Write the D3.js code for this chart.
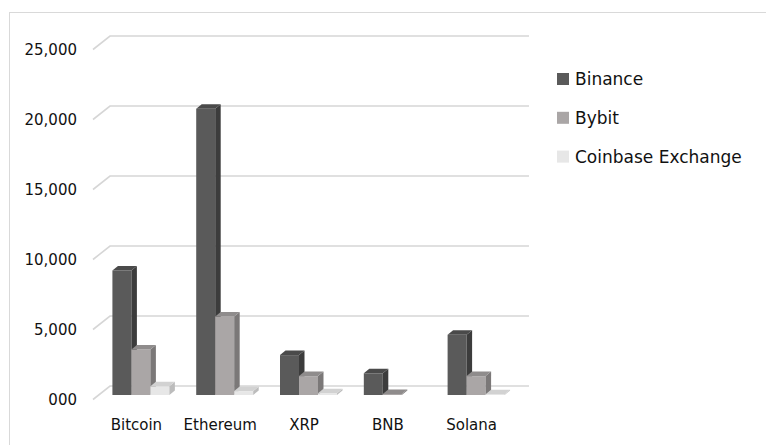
<!DOCTYPE html>
<html>
<head>
<meta charset="utf-8">
<title>Exchange volume 3D columns</title>
<script src="https://d3js.org/d3.v7.min.js"></script>
<style>
  body { margin: 0; background: #fff; }
  text { font-family: "DejaVu Sans", sans-serif; fill: #111; }
</style>
</head>
<body>
<script>
    var categories = ["Bitcoin", "Ethereum", "XRP", "BNB", "Solana"];
    var seriesNames = ["Binance", "Bybit", "Coinbase Exchange"];
    var binance = [8900, 20450, 2850, 1550, 4300];
    var bybit = [3250, 5600, 1350, 70, 1350];
    var coinbase = [620, 280, 120, 0, 60];
    var yTicks = [0, 5000, 10000, 15000, 20000, 25000];
    var yTickLabels = ["000", "5,000", "10,000", "15,000", "20,000", "25,000"];

    var seriesValues = [binance, bybit, coinbase];
    // front / side / top shades for each series
    var shades = [
        ["#5a5a5a", "#3c3c3c", "#4a4a4a"],
        ["#aaa6a6", "#7b7878", "#8f8c8c"],
        ["#e7e7e7", "#bcbcbc", "#d2d2d2"]
    ];

    var w = 766, h = 445;
    var floorDx = 17, floorDy = -13.5;   // front of floor -> back wall
    var barDx = 6, barDy = -4.5;         // front of floor -> front face of bars
    var depthDx = 5.5, depthDy = -4.5;   // bar thickness

    var svg = d3.select("body").append("svg")
        .attr("width", w).attr("height", h);

    // outer chart border
    svg.append("rect")
        .attr("x", 9.5).attr("y", 12.5)
        .attr("width", 820).attr("height", 470)
        .attr("fill", "none").attr("stroke", "#d9d9d9");

    var x0 = d3.scaleBand().domain(categories).range([93, 512])
        .paddingInner(0.32).paddingOuter(0.16);
    var x1 = d3.scaleBand().domain(seriesNames).range([0, x0.bandwidth()]);
    var y = d3.scaleLinear().domain([0, 25000]).range([399.5, 49.5]);

    // gridlines: diagonal on the side wall, then along the back wall
    var grid = svg.append("g");
    grid.selectAll("path").data(yTicks).enter().append("path")
        .attr("d", function(d) {
            var yy = y(d);
            return "M" + 93 + "," + yy + "L" + (93 + floorDx) + "," + (yy + floorDy) +
                   "L" + (512 + floorDx) + "," + (yy + floorDy);
        })
        .attr("fill", "none").attr("stroke", "#d6d6d6").attr("stroke-width", 1.6);

    // y labels
    svg.append("g").selectAll("text").data(yTicks).enter().append("text")
        .attr("x", 77).attr("y", function(d) { return y(d); })
        .attr("dy", "0.36em").attr("text-anchor", "end")
        .style("font-size", "15px")
        .text(function(d, i) { return yTickLabels[i]; });

    // category labels
    svg.append("g").selectAll("text").data(categories).enter().append("text")
        .attr("x", function(d) { return x0(d) - x0.step() * 0.16 + x0.step() / 2 + 1.5; })
        .attr("y", 424.5).attr("dy", "0.36em").attr("text-anchor", "middle")
        .style("font-size", "15px")
        .text(function(d) { return d; });

    // bars, left to right so each bar covers its neighbour's side face
    var bars = [];
    categories.forEach(function(c, ci) {
        seriesNames.forEach(function(s, si) {
            var v = seriesValues[si][ci];
            if (v > 0) bars.push({ cat: c, ser: s, si: si, value: v });
        });
    });

    function pts(a) { return a.map(function(p) { return p.join(","); }).join(" "); }

    var g = svg.append("g").selectAll("g").data(bars).enter().append("g");
    g.each(function(d) {
        var left = x0(d.cat) + x1(d.ser) + barDx;
        var right = left + x1.bandwidth();
        var bottom = y(0) + barDy;
        var top = y(d.value) + barDy;
        var sel = d3.select(this);
        sel.append("polygon")
            .attr("points", pts([[left, top], [right, top], [right, bottom], [left, bottom]]))
            .attr("fill", shades[d.si][0]);
        sel.append("polygon")
            .attr("points", pts([[right, top], [right + depthDx, top + depthDy],
                                 [right + depthDx, bottom + depthDy], [right, bottom]]))
            .attr("fill", shades[d.si][1]);
        sel.append("polygon")
            .attr("points", pts([[left, top], [left + depthDx, top + depthDy],
                                 [right + depthDx, top + depthDy], [right, top]]))
            .attr("fill", shades[d.si][2]);
    });

    // legend
    var legend = svg.append("g").selectAll("g").data(seriesNames).enter().append("g")
        .attr("transform", function(d, i) { return "translate(557," + (79 + i * 38.8) + ")"; });
    legend.append("rect")
        .attr("x", 0).attr("y", -6).attr("width", 12).attr("height", 12)
        .attr("fill", function(d, i) { return shades[i][0]; });
    legend.append("text")
        .attr("x", 18).attr("y", 0).attr("dy", "0.36em")
        .style("font-size", "17px")
        .text(function(d) { return d; });
</script>
</body>
</html>
